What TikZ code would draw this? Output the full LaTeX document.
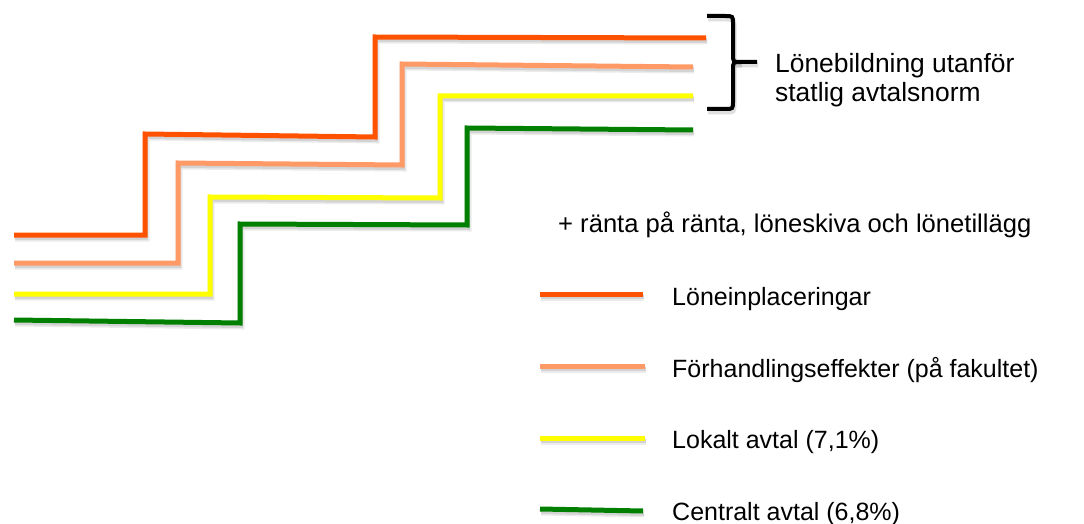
\documentclass[tikz,border=0pt]{standalone}
\usepackage{fontspec}
\setmainfont{Liberation Sans}
\definecolor{cOrange}{HTML}{FF5200}
\definecolor{cSalmon}{HTML}{FF9966}
\definecolor{cYellow}{HTML}{FFFF00}
\definecolor{cGreen}{HTML}{007F00}
\tikzset{
  stairline/.style={line width=5pt, line join=miter, line cap=butt,
    preaction={draw=black, opacity=0.08, line width=7pt,
      transform canvas={xshift=1.2pt,yshift=-3pt}},
    preaction={draw=black, opacity=0.1, line width=4pt,
      transform canvas={xshift=1.2pt,yshift=-3pt}}},
  bracestyle/.style={line width=4pt, black, line cap=butt,
    preaction={draw=black, opacity=0.12, line width=5pt, transform canvas={xshift=1pt,yshift=-3pt}}},
  lbl/.style={anchor=base west, inner sep=0pt, font=\fontsize{25}{30}\selectfont},
  bigl/.style={lbl, font=\fontsize{26.4}{31}\selectfont}
}
\begin{document}
\begin{tikzpicture}[x=1pt,y=-1pt]
\useasboundingbox (0,0) rectangle (1084,524);
% staircases
\draw[stairline, cOrange] (14,235) -- (145,235) -- (145,134) -- (375,137) -- (375,37) -- (706,38);
\draw[stairline, cSalmon] (14,263) -- (178,263) -- (178,163) -- (402,165) -- (402,64) -- (693,67);
\draw[stairline, cYellow] (14,294) -- (210,294) -- (210,197) -- (440,198) -- (440,96) -- (693,96);
\draw[stairline, cGreen] (14,320) -- (240,323) -- (240,224) -- (467,225) -- (467,128) -- (693,130);
% brace
\draw[bracestyle] (707,16) -- (725,16) .. controls (733,16) .. (733,24) -- (733,54) .. controls (733,62) .. (741,62) -- (757,62);
\draw[bracestyle] (741,62) .. controls (733,62) .. (733,70) -- (733,101) .. controls (733,109) .. (725,109) -- (707,109);
\node[bigl] (brA) at (775,73) {Lönebildning utanför};
\node[bigl] (brB) at (775,102) {statlig avtalsnorm};
\node[lbl, font=\fontsize{25.6}{30}\selectfont] (extra) at (558,232) {+ ränta på ränta, löneskiva och lönetillägg};
% legend
\draw[stairline, cOrange] (540,294) -- (643,294);
\draw[stairline, cSalmon] (540,366) -- (645,366);
\draw[stairline, cYellow] (540,438) -- (645,438);
\draw[stairline, cGreen] (540,509) -- (643,511);
\node[lbl] (l1) at (672,305) {Löneinplaceringar};
\node[lbl] (l2) at (672,377) {Förhandlingseffekter (på fakultet)};
\node[lbl] (l3) at (672,448) {Lokalt avtal (7,1\%)};
\node[lbl] (l4) at (672,520) {Centralt avtal (6,8\%)};
\end{tikzpicture}
\end{document}
